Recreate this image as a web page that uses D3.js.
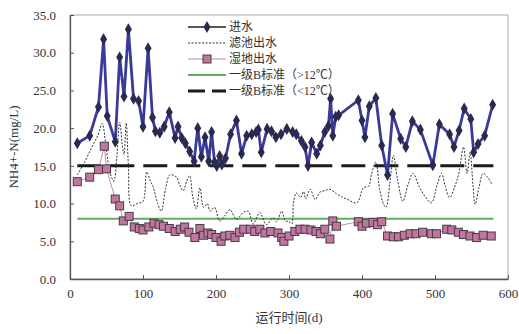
<!DOCTYPE html>
<html>
<head>
<meta charset="utf-8">
<script src="https://cdn.jsdelivr.net/npm/d3@7"></script>
<style>
  body { margin: 0; background: #fff; }
  svg { display: block; }
</style>
</head>
<body>
<div id="chart"></div>
<script>
// 进水 (influent) [day, mg/L]
const influent = [
  [10,18.0],[27,19.0],[39,22.8],[46,31.8],[51,21.6],[62,18.2],[68,29.4],[74,24.2],[80,33.1],
  [87,23.9],[94,23.6],[100,20.2],[107,30.6],[113,21.4],[117,19.6],[123,19.4],[129,20.2],
  [136,22.1],[144,18.7],[148,20.2],[153,18.7],[158,18.0],[164,16.9],[170,15.6],[175,20.0],
  [180,16.2],[185,18.8],[190,15.6],[194,19.5],[198,15.5],[201,15.0],[205,16.3],[208,15.2],
  [213,16.0],[220,19.2],[228,21.0],[235,16.6],[242,19.0],[249,19.2],[255,19.5],[258,19.8],
  [262,16.8],[270,19.9],[276,19.6],[282,18.8],[289,19.2],[297,19.9],[305,19.5],[310,19.2],
  [317,18.3],[322,17.5],[326,15.0],[331,18.1],[338,16.6],[343,17.7],[349,19.5],[354,20.3],
  [357,23.9],[360,19.0],[364,21.5],[368,21.7],[395,23.7],[400,21.0],[404,18.8],[410,22.9],
  [419,24.0],[427,17.7],[435,13.8],[442,21.9],[453,18.6],[460,17.5],[469,20.9],[480,19.8],
  [497,15.1],[506,20.5],[520,19.2],[526,17.5],[533,19.7],[540,22.6],[549,21.2],[553,16.8],
  [559,17.9],[568,19.0],[579,23.1]
];

// 滤池出水 (filter effluent)
const filterOut = [
  [10,13.8],[20,15.5],[30,17.5],[38,19.0],[44,20.6],[50,17.0],[55,14.0],[60,13.0],[64,16.0],
  [68,20.8],[72,17.5],[74,16.5],[77,20.7],[80,15.0],[84,9.7],[92,10.0],[100,10.3],[105,14.2],
  [110,13.0],[114,12.2],[120,10.0],[125,9.0],[131,12.0],[137,13.8],[146,13.5],[150,12.5],
  [155,11.7],[160,13.0],[164,13.7],[168,11.0],[173,9.3],[178,12.1],[183,9.5],[188,10.0],
  [192,9.0],[198,9.5],[205,7.7],[212,8.4],[219,9.2],[228,7.9],[237,8.8],[244,9.0],[251,7.3],
  [260,8.8],[269,7.2],[278,8.1],[283,7.6],[290,9.0],[295,7.7],[300,7.6],[304,7.3],[306,10.0],
  [310,11.4],[316,10.8],[320,11.6],[323,10.6],[329,11.9],[336,10.5],[342,11.5],[349,11.7],
  [356,11.9],[365,11.3],[372,10.9],[379,10.6],[393,10.1],[402,12.1],[409,12.3],[413,13.9],
  [419,15.5],[424,12.0],[430,9.8],[433,9.5],[438,12.5],[443,16.4],[449,13.0],[456,10.3],
  [463,12.5],[470,14.0],[478,12.3],[486,11.0],[495,10.1],[503,12.5],[509,14.0],[514,12.3],
  [520,10.8],[527,12.2],[533,14.2],[539,17.5],[544,14.0],[548,16.8],[552,12.5],[555,9.9],
  [560,12.0],[566,14.0],[572,13.5],[578,12.6]
];

// 湿地出水 (wetland effluent)
const wetlandOut = [
  [10,12.9],[27,13.5],[39,14.5],[47,17.6],[50,14.6],[62,10.6],[68,9.7],[73,7.7],[81,8.3],
  [88,6.9],[95,6.7],[100,6.5],[108,6.9],[115,7.4],[122,7.2],[128,7.0],[136,6.7],[144,6.3],
  [151,6.6],[157,6.9],[163,6.2],[171,5.5],[178,6.7],[183,5.8],[189,6.1],[194,5.9],[200,5.5],
  [207,5.0],[212,5.7],[219,5.8],[226,5.5],[232,6.2],[238,6.6],[247,6.6],[253,6.3],[260,6.6],
  [267,6.1],[275,6.3],[285,6.1],[290,5.5],[293,5.0],[300,5.7],[308,6.3],[315,6.6],[322,6.6],
  [330,6.5],[337,6.3],[343,6.0],[349,6.6],[356,5.3],[360,7.7],[365,7.0],[395,7.6],[400,7.0],
  [406,7.4],[415,7.5],[421,7.2],[427,7.6],[435,5.7],[443,5.6],[450,5.6],[458,5.8],[466,6.0],
  [474,6.0],[483,6.2],[495,6.0],[502,6.0],[516,6.6],[523,6.5],[532,6.2],[539,5.9],[548,5.7],
  [557,5.5],[566,5.8],[577,5.7]
];

const stdWarm = 8;   // 一级B标准 (>12℃)
const stdCold = 15;  // 一级B标准 (<12℃)

const xTicks = [0, 100, 200, 300, 400, 500, 600];
const yTicks = [0, 5, 10, 15, 20, 25, 30, 35];

const legendLabels = ["进水", "滤池出水", "湿地出水", "一级B标准（>12℃）", "一级B标准（<12℃）"];

const width = 519, height = 334;
const serif = "'Liberation Serif', 'Noto Sans CJK SC', serif";

const svg = d3.select("#chart").append("svg")
  .attr("width", width)
  .attr("height", height);

const x = d3.scaleLinear().domain([0, 600]).range([70, 508]);
const y = d3.scaleLinear().domain([0, 35]).range([279, 15]);

// frame (top / right in light gray)
svg.append("rect")
  .attr("x", x(0)).attr("y", y(35))
  .attr("width", x(600) - x(0)).attr("height", y(0) - y(35))
  .attr("fill", "none").attr("stroke", "#a8a8a8").attr("stroke-width", 1);

// axes with inward ticks
const xAxis = svg.append("g")
  .attr("transform", `translate(0,${y(0)})`)
  .call(d3.axisBottom(x).tickValues(xTicks).tickSizeInner(-4).tickSizeOuter(0).tickPadding(10));
const yAxis = svg.append("g")
  .attr("transform", `translate(${x(0)},0)`)
  .call(d3.axisLeft(y).tickValues(yTicks).tickFormat(d3.format(".1f")).tickSizeInner(-4).tickSizeOuter(0).tickPadding(14));

[xAxis, yAxis].forEach(g => {
  g.select(".domain").attr("stroke", "#555").attr("stroke-width", 1.3);
  g.selectAll(".tick line").attr("stroke", "#555");
  g.selectAll("text").attr("font-family", serif).attr("font-size", 13).attr("fill", "#333");
});

// standard lines
svg.append("line")
  .attr("x1", x(10)).attr("x2", x(580))
  .attr("y1", y(stdWarm)).attr("y2", y(stdWarm))
  .attr("stroke", "#5fae5f").attr("stroke-width", 2);
svg.append("line")
  .attr("x1", x(10)).attr("x2", x(580))
  .attr("y1", y(stdCold)).attr("y2", y(stdCold))
  .attr("stroke", "#1a1a1a").attr("stroke-width", 3).attr("stroke-dasharray", "24,9");

const line = d3.line().x(d => x(d[0])).y(d => y(d[1]));

// filter effluent, thin dotted
svg.append("path")
  .attr("d", line.curve(d3.curveCatmullRom)(filterOut))
  .attr("fill", "none")
  .attr("stroke", "#333")
  .attr("stroke-width", 1)
  .attr("stroke-dasharray", "2,1.5");

line.curve(d3.curveLinear);

// wetland effluent
svg.append("path")
  .attr("d", line(wetlandOut))
  .attr("fill", "none")
  .attr("stroke", "#b07090")
  .attr("stroke-width", 0.8);
svg.append("g").selectAll("rect")
  .data(wetlandOut)
  .enter()
  .append("rect")
  .attr("x", d => x(d[0]) - 4)
  .attr("y", d => y(d[1]) - 4)
  .attr("width", 8).attr("height", 8)
  .attr("fill", "#bf77a0")
  .attr("stroke", "#4a3a44")
  .attr("stroke-width", 1);

// influent
svg.append("path")
  .attr("d", line(influent))
  .attr("fill", "none")
  .attr("stroke", "#3a3a9a")
  .attr("stroke-width", 2.8);
const diamond = d3.symbol().type(d3.symbolDiamond).size(42);
svg.append("g").selectAll("path")
  .data(influent)
  .enter()
  .append("path")
  .attr("d", diamond)
  .attr("transform", d => `translate(${x(d[0])},${y(d[1])})`)
  .attr("fill", "#2a2a50");

// legend
const lg = svg.append("g");
const lx1 = 188, lx2 = 226, ly0 = 27, lstep = 16;
legendLabels.forEach((t, i) => {
  const ly = ly0 + i * lstep;
  if (i === 0) {
    lg.append("line").attr("x1", lx1).attr("x2", lx2).attr("y1", ly).attr("y2", ly)
      .attr("stroke", "#222").attr("stroke-width", 1.5);
    lg.append("path").attr("d", diamond).attr("transform", `translate(${(lx1 + lx2) / 2},${ly})`)
      .attr("fill", "#2a2a50");
  } else if (i === 1) {
    lg.append("line").attr("x1", lx1).attr("x2", lx2).attr("y1", ly).attr("y2", ly)
      .attr("stroke", "#333").attr("stroke-width", 1).attr("stroke-dasharray", "2,1.5");
  } else if (i === 2) {
    lg.append("line").attr("x1", lx1).attr("x2", lx2).attr("y1", ly).attr("y2", ly)
      .attr("stroke", "#b07090").attr("stroke-width", 0.8);
    lg.append("rect").attr("x", (lx1 + lx2) / 2 - 4).attr("y", ly - 4)
      .attr("width", 8).attr("height", 8)
      .attr("fill", "#bf77a0").attr("stroke", "#4a3a44");
  } else if (i === 3) {
    lg.append("line").attr("x1", lx1).attr("x2", lx2).attr("y1", ly).attr("y2", ly)
      .attr("stroke", "#5fae5f").attr("stroke-width", 2);
  } else {
    lg.append("line").attr("x1", lx1).attr("x2", lx2).attr("y1", ly).attr("y2", ly)
      .attr("stroke", "#1a1a1a").attr("stroke-width", 3).attr("stroke-dasharray", "17,7");
  }
  lg.append("text")
    .attr("x", lx2 + 3).attr("y", ly)
    .attr("dy", "0.35em")
    .attr("font-family", serif)
    .attr("font-size", 12)
    .attr("fill", "#333")
    .text(t);
});

// axis titles
svg.append("text")
  .attr("x", (x(0) + x(600)) / 2).attr("y", 322)
  .attr("text-anchor", "middle")
  .attr("font-family", serif).attr("font-size", 13).attr("fill", "#333")
  .text("运行时间(d)");

svg.append("text")
  .attr("transform", `translate(18,${(y(0) + y(35)) / 2}) rotate(-90)`)
  .attr("text-anchor", "middle")
  .attr("font-family", serif).attr("font-size", 13).attr("fill", "#333")
  .text("NH4+-N(mg/L)");
</script>
</body>
</html>
